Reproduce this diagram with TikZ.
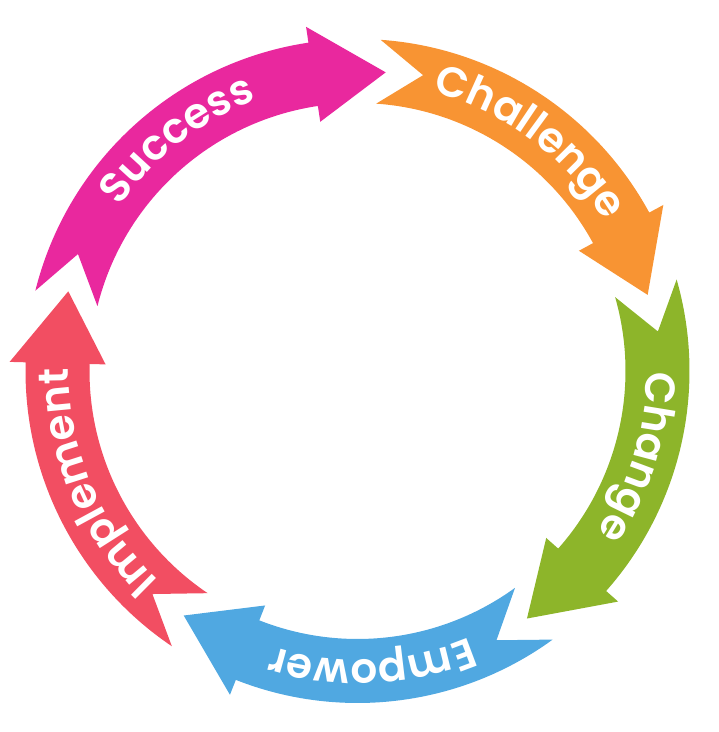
\documentclass[tikz,border=0pt]{standalone}
\usepackage{fontspec}
\setmainfont{Poppins}
\newfontfamily\bandface{Poppins SemiBold}
\usetikzlibrary{decorations.text}

\definecolor{successpink}{HTML}{E9289E}
\definecolor{challengeorange}{HTML}{F89433}
\definecolor{changegreen}{HTML}{8DB52A}
\definecolor{empowerblue}{HTML}{50A8E1}
\definecolor{implementred}{HTML}{F24E62}

\newcommand{\bandfont}{\bandface\fontsize{36}{36}\selectfont\color{white}}

\tikzset{
  success/.style={fill=successpink},
  challenge/.style={fill=challengeorange},
  change/.style={fill=changegreen},
  empower/.style={fill=empowerblue},
  implement/.style={fill=implementred},
  band label/.style={decorate, decoration={text along path, text align=center, text={|\bandfont|#1}}}
}

\begin{document}
\begin{tikzpicture}[x=0.03cm, y=0.03cm]

  \useasboundingbox (-357.5,-361) rectangle (360.5,371);

  % Success
  \fill[success] (166:332) arc[start angle=166, end angle=98.5, radius=332]
    -- (98.5:348) -- (84.6:300) -- (98.5:252) -- (98.5:268)
    arc[start angle=98.5, end angle=166, radius=268] -- (157.3:303) -- cycle;
  \path[band label=Success] (157.3:289) arc[start angle=157.3, end angle=98.5, radius=289];

  % Challenge
  \fill[challenge] (86:332) arc[start angle=86, end angle=28.5, radius=332]
    -- (28.5:348) -- (14.7:300) -- (28.5:252) -- (28.5:268)
    arc[start angle=28.5, end angle=86, radius=268] -- (77.5:303) -- cycle;
  \path[band label=Challenge] (77.5:289) arc[start angle=77.5, end angle=28.5, radius=289];

  % Change
  \fill[change] (16:332) arc[start angle=16, end angle=-41.5, radius=332]
    -- (-41.5:348) -- (-55.6:300) -- (-41.5:252) -- (-41.5:268)
    arc[start angle=-41.5, end angle=16, radius=268] -- (7.5:303) -- cycle;
  \path[band label=Change] (7.5:289) arc[start angle=7.5, end angle=-41.5, radius=289];

  % Empower
  \fill[empower] (-54:332) arc[start angle=-54, end angle=-111.5, radius=332]
    -- (-111.5:348) -- (-125.4:300) -- (-111.5:252) -- (-111.5:268)
    arc[start angle=-111.5, end angle=-54, radius=268] -- (-62.7:303) -- cycle;
  \path[band label=Empower] (-62.7:289) arc[start angle=-62.7, end angle=-111.5, radius=289];

  % Implement
  \fill[implement] (-124:332) arc[start angle=-124, end angle=-181.5, radius=332]
    -- (-181.5:348) -- (-195.4:300) -- (-181.5:252) -- (-181.5:268)
    arc[start angle=-181.5, end angle=-124, radius=268] -- (-132.6:303) -- cycle;
  \path[band label=Implement] (-132.6:289) arc[start angle=-132.6, end angle=-181.5, radius=289];

\end{tikzpicture}
\end{document}
